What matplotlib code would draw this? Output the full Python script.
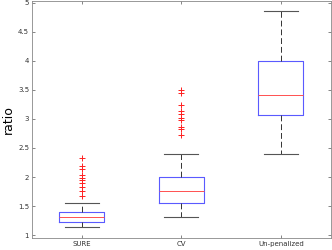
import matplotlib
matplotlib.use('Agg')
import matplotlib.pyplot as plt

# 三組方法的箱形圖統計
labels = ['SURE', 'CV', 'Un-penalized']
q1 = [1.224, 1.557, 3.07]
med = [1.305, 1.753, 3.41]
q3 = [1.39, 2.005, 3.995]
whislo = [1.133, 1.305, 2.40]
whishi = [1.546, 2.40, 4.86]
fliers = [
    [2.32, 2.19, 2.14, 2.03, 1.98, 1.95, 1.89, 1.83, 1.76, 1.67],
    [3.49, 3.44, 3.24, 3.14, 3.09, 3.02, 2.98, 2.86, 2.82, 2.72],
    [],
]

stats = []
for i, lab in enumerate(labels):
    stats.append({'label': lab, 'q1': q1[i], 'med': med[i], 'q3': q3[i],
                  'whislo': whislo[i], 'whishi': whishi[i],
                  'fliers': fliers[i]})

fig = plt.figure(figsize=(3.32, 2.5), dpi=100)
ax = fig.add_axes([0.096, 0.048, 0.9, 0.948])

ax.bxp(stats, positions=[1, 2, 3], widths=0.45, showfliers=True,
       boxprops=dict(color='#5a5aff', linewidth=0.8),
       medianprops=dict(color='#ff5050', linewidth=0.7),
       whiskerprops=dict(color='#333333', linewidth=0.7, linestyle=(0, (6, 3))),
       capprops=dict(color='#555555', linewidth=0.8),
       capwidths=0.34,
       flierprops=dict(marker='+', markeredgecolor='#ff2020', markersize=4.5,
                       markeredgewidth=0.7, linestyle='none'))

ax.set_xlim(0.5, 3.5)
ax.set_ylim(0.95, 5.03)
ax.set_yticks([1, 1.5, 2, 2.5, 3, 3.5, 4, 4.5, 5])
ax.set_yticklabels(['1', '1.5', '2', '2.5', '3', '3.5', '4', '4.5', '5'])
ax.set_ylabel('ratio', fontsize=9, labelpad=2)

ax.tick_params(direction='in', length=2.5, width=0.5, labelsize=5,
               colors='#555555', labelcolor='#333333', top=True, right=True, pad=2)
for s in ax.spines.values():
    s.set_color('#888888')
    s.set_linewidth(0.6)

plt.savefig('out.png', dpi=100)
plt.close()
